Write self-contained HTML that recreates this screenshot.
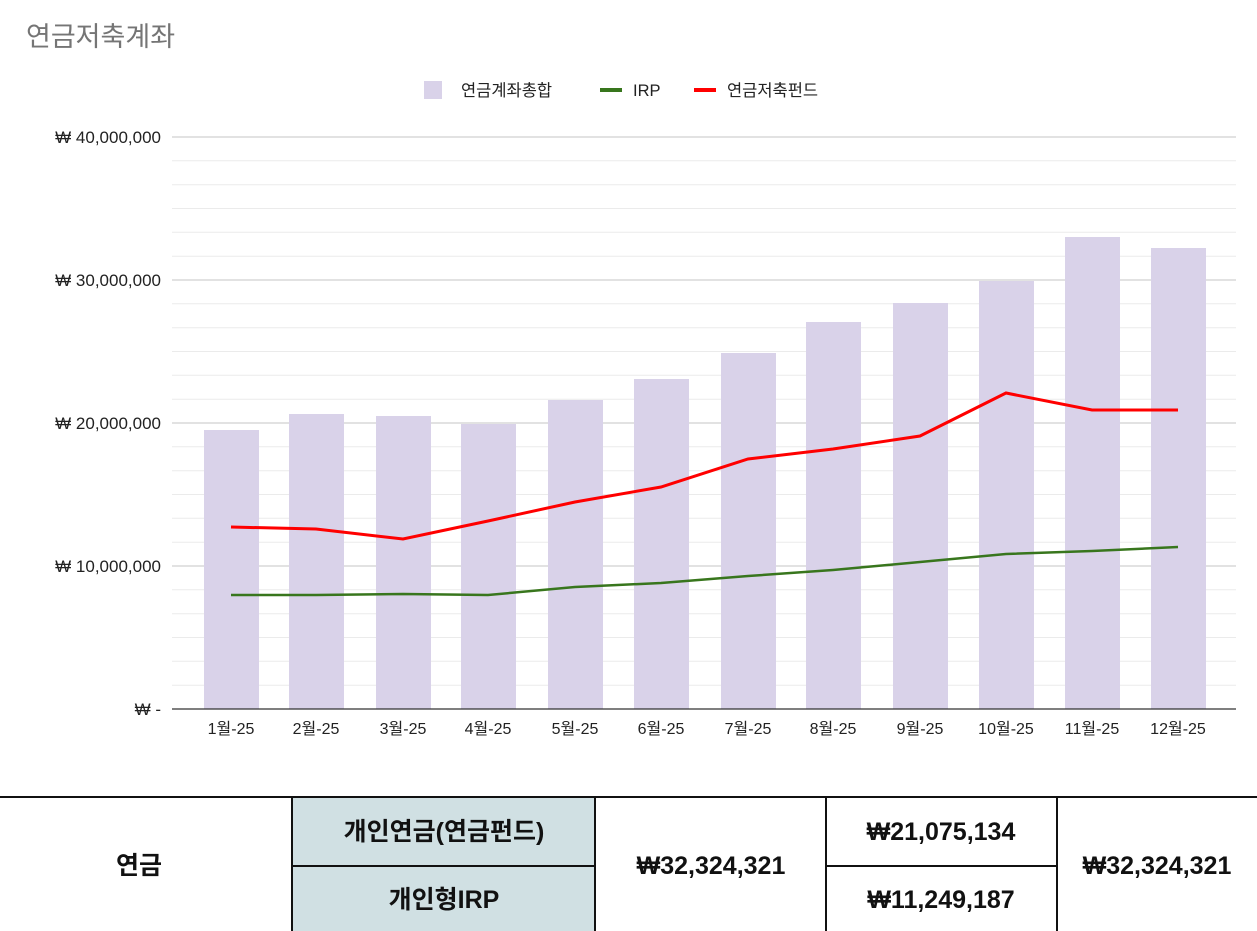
<!DOCTYPE html>
<html><head><meta charset="utf-8"><style>
body{margin:0;background:#fff;width:1257px;height:931px;overflow:hidden}
svg{display:block}
.t{font-family:"Liberation Sans","Noto Sans CJK KR",sans-serif}
.b{font-family:"Liberation Sans","Noto Sans CJK KR",sans-serif;font-weight:bold;font-size:25px;fill:#111}
</style></head><body>
<svg width="1257" height="931" xmlns="http://www.w3.org/2000/svg">
<text x="26" y="46" class="t" font-size="27" fill="#757575">연금저축계좌</text>
<rect x="424" y="81" width="18" height="18" fill="#d9d2e9"/>
<text x="461" y="96" class="t" font-size="16.5" fill="#222">연금계좌총합</text>
<rect x="600" y="88" width="22" height="4" fill="#38761d"/>
<text x="633" y="96" class="t" font-size="16.5" fill="#222">IRP</text>
<rect x="694" y="88" width="22" height="4" fill="#ff0000"/>
<text x="727" y="96" class="t" font-size="16.5" fill="#222">연금저축펀드</text>
<g stroke="#ebebeb" stroke-width="1">
<line x1="172" x2="1236" y1="160.8" y2="160.8"/><line x1="172" x2="1236" y1="184.7" y2="184.7"/><line x1="172" x2="1236" y1="208.5" y2="208.5"/><line x1="172" x2="1236" y1="232.3" y2="232.3"/><line x1="172" x2="1236" y1="256.2" y2="256.2"/>
<line x1="172" x2="1236" y1="303.8" y2="303.8"/><line x1="172" x2="1236" y1="327.7" y2="327.7"/><line x1="172" x2="1236" y1="351.5" y2="351.5"/><line x1="172" x2="1236" y1="375.3" y2="375.3"/><line x1="172" x2="1236" y1="399.2" y2="399.2"/>
<line x1="172" x2="1236" y1="446.8" y2="446.8"/><line x1="172" x2="1236" y1="470.7" y2="470.7"/><line x1="172" x2="1236" y1="494.5" y2="494.5"/><line x1="172" x2="1236" y1="518.3" y2="518.3"/><line x1="172" x2="1236" y1="542.2" y2="542.2"/>
<line x1="172" x2="1236" y1="589.8" y2="589.8"/><line x1="172" x2="1236" y1="613.7" y2="613.7"/><line x1="172" x2="1236" y1="637.5" y2="637.5"/><line x1="172" x2="1236" y1="661.3" y2="661.3"/><line x1="172" x2="1236" y1="685.2" y2="685.2"/>
</g>
<g stroke="#d0d0d0" stroke-width="1.3">
<line x1="172" x2="1236" y1="137" y2="137"/><line x1="172" x2="1236" y1="280" y2="280"/><line x1="172" x2="1236" y1="423" y2="423"/><line x1="172" x2="1236" y1="566" y2="566"/>
</g>
<g class="t" font-size="17" fill="#222" text-anchor="end">
<text x="161" y="143">₩ 40,000,000</text><text x="161" y="286">₩ 30,000,000</text><text x="161" y="429">₩ 20,000,000</text><text x="161" y="572">₩ 10,000,000</text><text x="161" y="715">₩ -</text>
</g>
<g fill="#d9d2e9">
<rect x="204" y="430" width="55" height="279"/><rect x="289" y="414" width="55" height="295"/><rect x="376" y="416" width="55" height="293"/><rect x="461" y="424" width="55" height="285"/><rect x="548" y="400" width="55" height="309"/><rect x="634" y="379" width="55" height="330"/><rect x="721" y="353" width="55" height="356"/><rect x="806" y="322" width="55" height="387"/><rect x="893" y="303" width="55" height="406"/><rect x="979" y="281" width="55" height="428"/><rect x="1065" y="237" width="55" height="472"/><rect x="1151" y="248" width="55" height="461"/>
</g>
<line x1="172" x2="1236" y1="709" y2="709" stroke="#333" stroke-width="1.3"/>
<polyline fill="none" stroke="#38761d" stroke-width="2.5" points="231,595 316,595 403,594 488,595 575,587 661,583 748,576 833,570 920,562 1006,554 1092,551 1178,547"/>
<polyline fill="none" stroke="#ff0000" stroke-width="3" points="231,527 316,529 403,539 488,521 575,502 661,487 748,459 833,449 920,436 1006,393 1092,410 1178,410"/>
<g class="t" font-size="16" fill="#222" text-anchor="middle">
<text x="231" y="734">1월-25</text><text x="316" y="734">2월-25</text><text x="403" y="734">3월-25</text><text x="488" y="734">4월-25</text><text x="575" y="734">5월-25</text><text x="661" y="734">6월-25</text><text x="748" y="734">7월-25</text><text x="833" y="734">8월-25</text><text x="920" y="734">9월-25</text><text x="1006" y="734">10월-25</text><text x="1092" y="734">11월-25</text><text x="1178" y="734">12월-25</text>
</g>
<rect x="292" y="797" width="303" height="134" fill="#d0e0e3"/>
<g stroke="#111" stroke-width="2">
<line x1="0" x2="1257" y1="797" y2="797"/>
<line x1="292" x2="292" y1="797" y2="931"/><line x1="595" x2="595" y1="797" y2="931"/><line x1="826" x2="826" y1="797" y2="931"/><line x1="1057" x2="1057" y1="797" y2="931"/>
<line x1="292" x2="595" y1="866" y2="866"/><line x1="826" x2="1057" y1="866" y2="866"/>
</g>
<g class="b" text-anchor="middle">
<text x="139" y="874">연금</text>
<text x="444" y="840">개인연금(연금펀드)</text>
<text x="444" y="908">개인형IRP</text>
<text x="711" y="874">₩32,324,321</text>
<text x="941" y="840">₩21,075,134</text>
<text x="941" y="908">₩11,249,187</text>
<text x="1157" y="874">₩32,324,321</text>
</g>
</svg>
</body></html>
